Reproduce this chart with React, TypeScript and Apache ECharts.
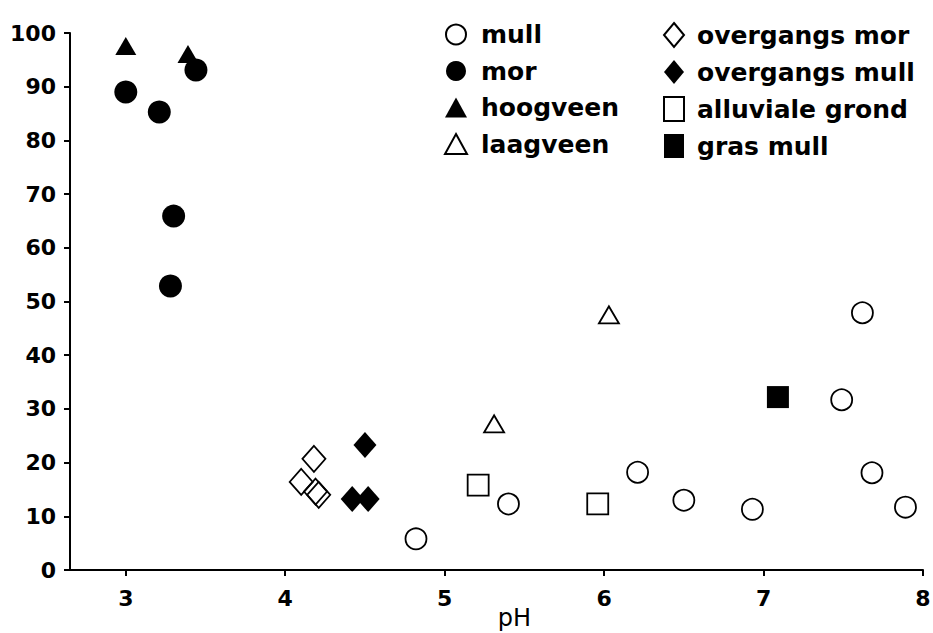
import React, { useEffect, useRef } from "react";
import * as echarts from "echarts";

// pH tick positions
const xTicks = [3, 4, 5, 6, 7, 8];

// Series data (pH, value)
const mullPH = [4.82, 5.4, 6.21, 6.5, 6.93, 7.49, 7.62, 7.68, 7.89];
const mullVal = [5.8, 12.3, 18.2, 13.0, 11.3, 31.7, 47.9, 18.1, 11.7];

const morPH = [3.0, 3.21, 3.3, 3.28, 3.44];
const morVal = [89.0, 85.3, 65.9, 52.9, 93.1];

const hoogveenPH = [3.0, 3.39];
const hoogveenVal = [97.6, 96.1];

const laagveenPH = [5.31, 6.03];
const laagveenVal = [27.2, 47.5];

const ovMorPH = [4.18, 4.1, 4.19, 4.21];
const ovMorVal = [20.7, 16.4, 14.6, 14.0];

const ovMullPH = [4.5, 4.42, 4.52];
const ovMullVal = [23.3, 13.2, 13.2];

const alluvPH = [5.21, 5.96];
const alluvVal = [15.8, 12.3];

const grasPH = [7.09];
const grasVal = [32.2];

const legendLeft = ["mull", "mor", "hoogveen", "laagveen"];
const legendRight = ["overgangs mor", "overgangs mull", "alluviale grond", "gras mull"];

const zip = (a: number[], b: number[]) => a.map((v, i) => [v, b[i]]);

const FONT = "DejaVu Sans";

export default function App() {
  const ref = useRef<HTMLDivElement>(null);
  useEffect(() => {
    if (!ref.current) return;
    const chart = echarts.init(ref.current, undefined, { renderer: "svg" });
    const open = () => ({
      color: "rgba(255,255,255,0)",
      borderColor: "#000",
      borderWidth: 1.8,
      opacity: 1,
    });
    const filled = () => ({ color: "#000", borderWidth: 0, opacity: 1 });
    const mk = (name: string, xs: number[], ys: number[], symbol: string, size: any, itemStyle: any) => ({
      name,
      type: "scatter",
      data: zip(xs, ys),
      symbol,
      symbolSize: size,
      itemStyle,
      emphasis: { disabled: true },
    });
    const legendText = (padLeft: number) => ({
      fontFamily: FONT,
      fontWeight: "bold",
      fontSize: 25,
      color: "#000",
      lineHeight: 25,
      padding: [0, 0, 0, padLeft],
    });
    chart.setOption({
      animation: false,
      backgroundColor: "#fff",
      grid: {
        left: 70,
        right: 10,
        top: 33,
        bottom: 63,
        containLabel: false,
        outerBoundsMode: "none",
      },
      xAxis: {
        type: "value",
        min: 2.65,
        max: 8,
        name: "pH",
        nameLocation: "middle",
        nameGap: 36,
        nameMoveOverlap: false,
        nameTextStyle: {
          fontFamily: FONT,
          fontSize: 24,
          color: "#000",
          padding: [0, 0, 0, 36],
        },
        axisLine: { show: true, lineStyle: { color: "#000", width: 2 } },
        axisTick: {
          show: true,
          customValues: xTicks,
          length: 6,
          lineStyle: { color: "#000", width: 2 },
        },
        axisLabel: {
          customValues: xTicks,
          fontFamily: FONT,
          fontWeight: "bold",
          fontSize: 22,
          color: "#000",
          margin: 17,
        },
        splitLine: { show: false },
      },
      yAxis: {
        type: "value",
        min: 0,
        max: 100,
        interval: 10,
        axisLine: { show: true, lineStyle: { color: "#000", width: 2 } },
        axisTick: { show: true, length: 6, lineStyle: { color: "#000", width: 2 } },
        axisLabel: {
          fontFamily: FONT,
          fontWeight: "bold",
          fontSize: 22,
          color: "#000",
          margin: 14,
        },
        splitLine: { show: false },
      },
      legend: [
        {
          data: legendLeft,
          orient: "vertical",
          left: 444,
          top: 22,
          padding: 0,
          itemWidth: 22,
          itemHeight: 20,
          itemGap: 11.5,
          selectedMode: false,
          textStyle: legendText(9),
        },
        {
          data: legendRight,
          orient: "vertical",
          left: 663,
          top: 22,
          padding: 0,
          itemWidth: 20,
          itemHeight: 24,
          itemGap: 11.5,
          selectedMode: false,
          textStyle: legendText(8),
        },
      ],
      series: [
        mk("mull", mullPH, mullVal, "circle", 21, open()),
        mk("mor", morPH, morVal, "circle", 23, filled()),
        mk("hoogveen", hoogveenPH, hoogveenVal, "triangle", [21, 18], filled()),
        mk("laagveen", laagveenPH, laagveenVal, "triangle", [20, 17], open()),
        mk("overgangs mor", ovMorPH, ovMorVal, "diamond", [23, 26], open()),
        mk("overgangs mull", ovMullPH, ovMullVal, "diamond", [23, 26], filled()),
        mk("alluviale grond", alluvPH, alluvVal, "rect", 21, open()),
        mk("gras mull", grasPH, grasVal, "rect", 22, filled()),
      ],
    });
    return () => chart.dispose();
  }, []);
  return (
    <div
      ref={ref}
      style={{ position: "fixed", left: 0, top: 0, width: 933, height: 633, background: "#fff" }}
    />
  );
}
